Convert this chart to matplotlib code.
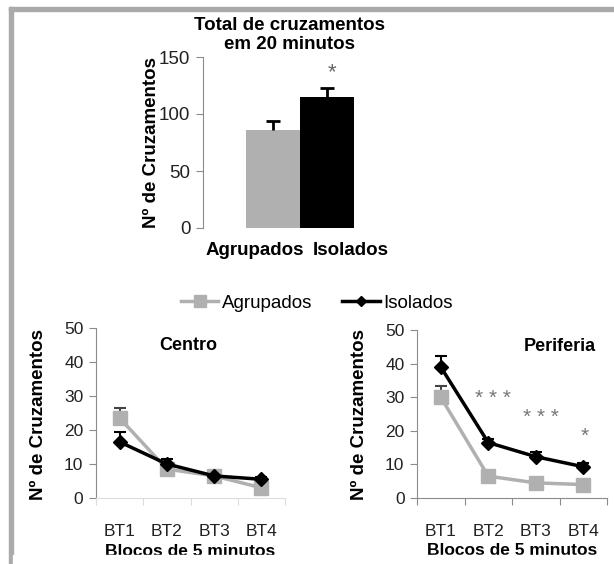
import matplotlib
matplotlib.use("Agg")
import matplotlib.pyplot as plt
from matplotlib.lines import Line2D
from matplotlib.patches import Rectangle

plt.rcParams['font.family'] = ['Liberation Sans', 'DejaVu Sans']

# total crossings in 20 minutes
grupos = ["Agrupados", "Isolados"]
total = [86, 115]
total_err = [8, 8]

# crossings per 5 minute block
blocos = ["BT1", "BT2", "BT3", "BT4"]
centro_agr = [23.5, 8.5, 6.5, 3.0]
centro_agr_err = [3.0, 1.0, 1.0, 0.8]
centro_iso = [16.5, 10.0, 6.5, 5.5]
centro_iso_err = [2.8, 1.5, 1.0, 0.8]
perif_agr = [30.0, 6.5, 4.5, 4.0]
perif_agr_err = [3.4, 0.6, 0.5, 0.5]
perif_iso = [39.0, 16.5, 12.3, 9.3]
perif_iso_err = [3.3, 1.0, 1.5, 1.0]
perif_sig = ["", "* * *", "* * *", "*"]
perif_sig_y = [0, 29.5, 24, 18.5]

W, H = 614, 564
GRAY = '#b0b0b0'
AXC = '#8c8c8c'

fig = plt.figure(figsize=(W / 100, H / 100), dpi=100)


def px_axes(x0, y0, x1, y1):
    return fig.add_axes([x0 / W, 1 - y1 / H, (x1 - x0) / W, (y1 - y0) / H])


def style(ax, ticksize):
    for s in ['top', 'right']:
        ax.spines[s].set_visible(False)
    ax.spines['left'].set_color(AXC)
    ax.tick_params(axis='y', colors=AXC, labelcolor='#222222', length=5,
                   labelsize=ticksize, pad=4)


def up_errors(ax, xs, ys, err, color, lw, cap):
    # only the upper half of the error bar, as in the original
    eb = ax.errorbar(xs, ys, yerr=[[0] * len(ys), err], fmt='none', ecolor=color,
                     elinewidth=lw, capsize=cap, capthick=lw, zorder=2)
    eb[1][0].set_visible(False)


# frame lines of the original figure
fig.patches.append(Rectangle((9 / W, 1 - 11 / H), 1 - 9 / W, 4 / H,
                             transform=fig.transFigure, color='#aaaaaa', zorder=0))
fig.patches.append(Rectangle((9 / W, 0), 4 / W, 1 - 7 / H,
                             transform=fig.transFigure, color='#aaaaaa', zorder=0))

# ---- bar chart ----
ax = px_axes(203, 57, 397, 228)
x = list(range(len(grupos)))
ax.bar(x, total, width=1.0, color=[GRAY, 'black'], zorder=2)
up_errors(ax, x, total, total_err, 'black', 2, 5)
ax.set_xlim(-1.3, 2.3)
ax.set_ylim(0, 150)
ax.set_yticks([0, 50, 100, 150])
ax.set_xticks([])
ax.spines['bottom'].set_visible(False)
style(ax, 13.5)
ax.text(-0.33, -20, grupos[0], ha='center', va='center', fontsize=13.5,
        fontweight='bold')
ax.text(1.45, -20, grupos[1], ha='center', va='center', fontsize=13.5,
        fontweight='bold')
ax.text(1.1, 136, '*', ha='center', va='center', fontsize=16, color='#666666')
fig.text(290 / W, 1 - 35 / H, "Total de cruzamentos\nem 20 minutos", ha='center',
         va='center', fontsize=13.5, fontweight='bold', linespacing=1.1)
fig.text(152 / W, 1 - 143 / H, "Nº de Cruzamentos", rotation=90, ha='center',
         va='center', fontsize=13.5, fontweight='bold')


def line_panel(ax, agr, agr_err, iso, iso_err, title, tx, bottom_color):
    xs = [i + 0.5 for i in range(len(blocos))]
    up_errors(ax, xs, agr, agr_err, '#444444', 1.5, 4)
    up_errors(ax, xs, iso, iso_err, 'black', 1.5, 4)
    ax.plot(xs, agr, color=GRAY, lw=2.5, marker='s', ms=10, zorder=3)
    ax.plot(xs, iso, color='black', lw=2.5, marker='D', ms=7, zorder=4)
    ax.set_xlim(0, 4)
    ax.set_ylim(0, 50)
    ax.set_yticks([0, 10, 20, 30, 40, 50])
    ax.set_xticks([0, 1, 2, 3, 4])
    ax.set_xticklabels([])
    ax.set_xticks(xs, minor=True)
    ax.set_xticklabels(blocos, minor=True)
    ax.tick_params(axis='x', which='major', colors=bottom_color, length=5,
                   direction='out')
    ax.tick_params(axis='x', which='minor', length=0, labelsize=12.5, pad=19,
                   labelcolor='#222222')
    ax.spines['bottom'].set_color(bottom_color)
    style(ax, 12.5)
    ax.text(tx, 45, title, ha='center', va='center', fontsize=13,
            fontweight='bold')
    ax.text(2.0, -15.6, "Blocos de 5 minutos", ha='center', va='center',
            fontsize=12.5, fontweight='bold')


axl = px_axes(96, 328, 285, 498)
line_panel(axl, centro_agr, centro_agr_err, centro_iso, centro_iso_err,
           "Centro", 1.95, '#dddddd')
fig.text(39 / W, 1 - 414 / H, "Nº de Cruzamentos", rotation=90, ha='center',
         va='center', fontsize=13.5, fontweight='bold')

axr = px_axes(417, 330, 607, 498)
line_panel(axr, perif_agr, perif_agr_err, perif_iso, perif_iso_err,
           "Periferia", 3.0, AXC)
sig_x = [0, 1.6, 2.6, 3.54]
for i, s in enumerate(perif_sig):
    if s:
        axr.text(sig_x[i], perif_sig_y[i], s, ha='center', va='center',
                 fontsize=15, color='#777777')
fig.text(360 / W, 1 - 414 / H, "Nº de Cruzamentos", rotation=90, ha='center',
         va='center', fontsize=13.5, fontweight='bold')

# legend
handles = [Line2D([], [], color=GRAY, lw=2.5, marker='s', ms=8),
           Line2D([], [], color='black', lw=2.5, marker='D', ms=5)]
fig.legend(handles, grupos, loc='center', bbox_to_anchor=(317 / W, 1 - 303 / H),
           ncol=2, frameon=False, fontsize=13.5, handlelength=2.0,
           handletextpad=0.2, columnspacing=1.6)

# bottom of the original picture is cut
fig.patches.append(Rectangle((13 / W, 0), 1, 9 / H, transform=fig.transFigure,
                             color='white', zorder=10))

fig.savefig("out.png", dpi=100)
